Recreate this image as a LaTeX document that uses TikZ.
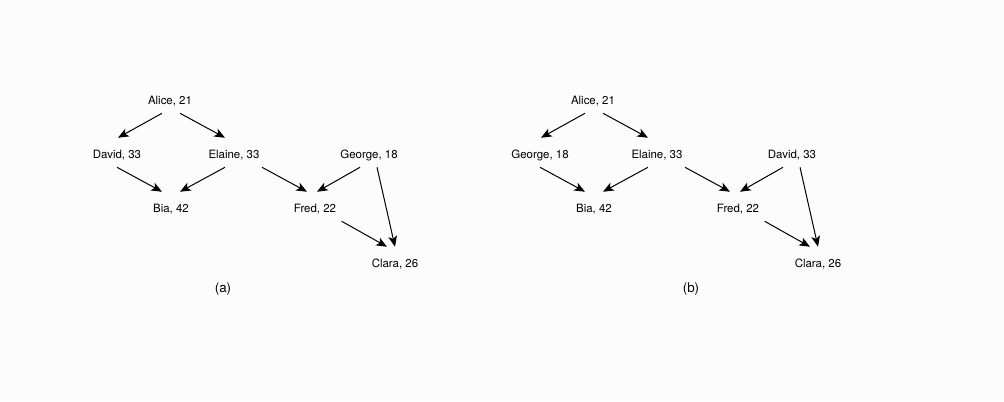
\documentclass[tikz,border=0pt]{standalone}
\usepackage{fontspec}
\setmainfont{TeX Gyre Heros}
\usetikzlibrary{arrows.meta}

\tikzset{
  person/.style={anchor=base,inner xsep=0pt,inner ysep=3pt,
    text height=12pt,text depth=3.75pt,font=\fontsize{8.6}{10}\selectfont},
  caption/.style={anchor=base,font=\fontsize{10}{12}\selectfont},
  arr/.style={-{Stealth[length=8pt,width=6.5pt,inset=2pt]},line width=0.75pt}
}

\begin{document}
\begin{tikzpicture}[x=0.75pt,y=-0.75pt]
\fill[white!99!black] (0,0) rectangle (1004,401);
\useasboundingbox (0,0) rectangle (1004,401);

% (a)
\node[person] (alice) at (170,104) {Alice, 21};
\node[person] (david) at (117,158) {David, 33};
\node[person] (elaine) at (234,158) {Elaine, 33};
\node[person] (george) at (369,158) {George, 18};
\node[person] (bia) at (171,212) {Bia, 42};
\node[person] (fred) at (315,212) {Fred, 22};
\node[person] (clara) at (395,267) {Clara, 26};
\node[caption] (capa) at (223,292) {(a)};

\path ([xshift=-6pt]alice.south) edge[arr] ([xshift=0.75pt]david.north);
\path ([xshift=7.5pt]alice.south) edge[arr] ([xshift=-6.75pt]elaine.north);
\path (david.south) edge[arr] ([xshift=-6.75pt]bia.north);
\path ([xshift=-6.75pt]elaine.south) edge[arr] ([xshift=6.75pt]bia.north);
\path ([xshift=21pt]elaine.south) edge[arr] ([xshift=-6pt]fred.north);
\path ([xshift=-6.75pt]george.south) edge[arr] ([xshift=1.5pt]fred.north);
\path ([xshift=6pt]george.south) edge[arr] (clara.north);
\path ([xshift=20pt]fred.south) edge[arr] ([xshift=-6pt]clara.north);

% (b)
\node[person] (aliceB) at (593,104) {Alice, 21};
\node[person] (georgeB) at (540,158) {George, 18};
\node[person] (elaineB) at (657,158) {Elaine, 33};
\node[person] (davidB) at (792,158) {David, 33};
\node[person] (biaB) at (594,212) {Bia, 42};
\node[person] (fredB) at (738,212) {Fred, 22};
\node[person] (claraB) at (818,267) {Clara, 26};
\node[caption] (capb) at (691,292) {(b)};

\path ([xshift=-6pt]aliceB.south) edge[arr] ([xshift=0.75pt]georgeB.north);
\path ([xshift=7.5pt]aliceB.south) edge[arr] ([xshift=-6.75pt]elaineB.north);
\path (georgeB.south) edge[arr] ([xshift=-6.75pt]biaB.north);
\path ([xshift=-6.75pt]elaineB.south) edge[arr] ([xshift=6.75pt]biaB.north);
\path ([xshift=21pt]elaineB.south) edge[arr] ([xshift=-6pt]fredB.north);
\path ([xshift=-6.75pt]davidB.south) edge[arr] ([xshift=1.5pt]fredB.north);
\path ([xshift=6pt]davidB.south) edge[arr] (claraB.north);
\path ([xshift=20pt]fredB.south) edge[arr] ([xshift=-6pt]claraB.north);
\end{tikzpicture}
\end{document}
